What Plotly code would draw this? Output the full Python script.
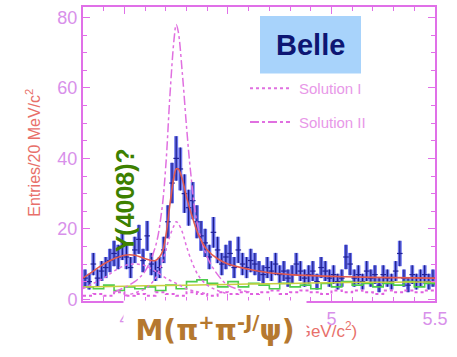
import plotly.graph_objects as go
import numpy as np

# ---- data ----
bin_centers = [round(3.81 + 0.02 * i, 2) for i in range(85)]
counts = [6, 5, 10, 6, 8, 9, 11, 13, 12, 15,
          12, 9, 14, 17, 11, 18, 10, 8, 9, 14,
          22, 33, 40, 37, 30, 26, 28, 22, 18, 16,
          12, 19, 14, 10, 12, 13, 9, 14, 10, 9,
          11, 10, 8, 7, 9, 8, 10, 7, 8, 6,
          7, 10, 8, 6, 7, 8, 5, 9, 8, 6,
          7, 5, 6, 12, 10, 6, 7, 5, 8, 6,
          7, 4, 7, 6, 5, 8, 13, 6, 4, 7,
          5, 6, 7, 5, 6]

fit_x = [3.80, 3.85, 3.90, 3.95, 4.00, 4.05, 4.10, 4.15, 4.18, 4.20, 4.22, 4.24, 4.25, 4.26,
         4.28, 4.30, 4.33, 4.36, 4.40, 4.45, 4.50, 4.60, 4.70, 4.80, 5.00, 5.20, 5.50]
fit_y = [6, 8, 10, 11.5, 12.5, 12.5, 11.5, 11, 13, 18, 27, 35, 37, 37,
         34, 29, 23, 18, 14, 11.5, 10, 8.5, 7.5, 7, 6.5, 6.2, 6]

sol2_x = [3.95, 4.05, 4.10, 4.15, 4.18, 4.20, 4.22, 4.24, 4.25, 4.26, 4.28, 4.30, 4.32, 4.35, 4.40, 4.45, 4.50, 4.60]
sol2_y = [2, 5, 8, 15, 25, 38, 58, 74, 78, 76, 64, 49, 36, 22, 12, 7, 4, 2]

sol1_x = [4.00, 4.10, 4.15, 4.18, 4.20, 4.22, 4.24, 4.25, 4.26, 4.28, 4.30, 4.33, 4.36, 4.40, 4.45, 4.50]
sol1_y = [1, 3, 6, 10, 14, 18, 21, 22, 21.5, 19, 15, 10, 6.5, 4, 2.5, 1.5]

y4008_x = [3.80, 3.85, 3.90, 3.95, 4.00, 4.05, 4.10, 4.15, 4.20, 4.25, 4.30, 4.40]
y4008_y = [3, 4.5, 6, 8, 9.5, 10, 9.5, 8, 6, 4.5, 3, 1.5]

side_x = [round(3.80 + 0.05 * i, 2) for i in range(35)]
side_y = [3.5, 3, 4, 2.5, 3.5, 3, 3.5, 2.5, 4, 3, 5, 5.5, 4.5, 3.5, 5, 3.5, 4.5, 4,
          3, 4.5, 3.5, 4, 3, 4.5, 3.5, 5, 4, 4.5, 3.5, 4.5, 4, 5, 3.5, 4.5, 4]

bkg_x = [3.80, 4.00, 4.20, 4.40, 4.60, 4.80, 5.00, 5.20, 5.50]
bkg_y = [3.5, 3.7, 3.9, 4.1, 4.3, 4.5, 4.7, 4.8, 4.9]

low_x = [round(3.80 + 0.05 * i, 2) for i in range(35)]
low_y = [1, 1.5, 1, 2, 1, 1.5, 1, 2, 1.5, 1, 2, 1.5, 1, 2, 1.5, 2, 1.5, 2,
         2.5, 1.5, 2, 2.5, 2, 1.5, 2.5, 2, 2.5, 2, 1.5, 2.5, 2, 2.5, 2, 2.5, 2]

y_ticks = [0, 20, 40, 60, 80]
x_ticks = [4, 4.5, 5, 5.5]
x_tick_text = ["4", "4.5", "5", "5.5"]

# ---- figure ----
errs = [np.sqrt(c) for c in counts]
fig = go.Figure()

fig.add_trace(go.Bar(x=bin_centers, y=[2 * e for e in errs],
                     base=[c - e for c, e in zip(counts, errs)],
                     width=0.019, marker=dict(color="rgba(80,90,235,0.85)", line=dict(width=0)),
                     hoverinfo="skip"))
fig.add_trace(go.Scatter(x=bin_centers, y=counts, mode="markers",
                         marker=dict(symbol="line-ew", size=4, color="#22229a", line=dict(width=1.2, color="#22229a")),
                         error_y=dict(type="data", array=errs, color="#1e1e88", thickness=1.2, width=0)))

fig.add_trace(go.Scatter(x=low_x, y=low_y, mode="lines", line=dict(color="#e060e0", width=2, dash="dot", shape="hv")))
fig.add_trace(go.Scatter(x=side_x, y=side_y, mode="lines", line=dict(color="#4ccc4c", width=1.6, shape="hv")))
fig.add_trace(go.Scatter(x=bkg_x, y=bkg_y, mode="lines", line=dict(color="#c8d040", width=1.5, shape="spline")))
fig.add_trace(go.Scatter(x=y4008_x, y=y4008_y, mode="lines", line=dict(color="#e070e0", width=1.5, dash="dot", shape="spline")))
fig.add_trace(go.Scatter(x=sol2_x, y=sol2_y, mode="lines", line=dict(color="#e070e0", width=1.5, dash="dashdot", shape="spline")))
fig.add_trace(go.Scatter(x=sol1_x, y=sol1_y, mode="lines", line=dict(color="#e070e0", width=1.5, dash="dot", shape="spline")))
fig.add_trace(go.Scatter(x=fit_x, y=fit_y, mode="lines", line=dict(color="#e05a50", width=1.6, shape="spline")))

axis_col = "#e070e8"
tick_font = dict(family="Liberation Sans, Arial, sans-serif", size=18, color="#d890ea")

fig.update_layout(
    width=457, height=357,
    margin=dict(l=83, r=22, t=5, b=56),
    paper_bgcolor="white", plot_bgcolor="white",
    showlegend=False, barmode="overlay",
    xaxis=dict(range=[3.8, 5.5], tickvals=x_ticks, ticktext=x_tick_text, ticks="inside", ticklen=7,
               tickcolor=axis_col, showline=True, linecolor=axis_col, linewidth=2, mirror="ticks",
               showgrid=False, zeroline=False, tickfont=tick_font,
               minor=dict(dtick=0.1, ticks="inside", ticklen=4, tickcolor=axis_col)),
    yaxis=dict(range=[-0.5, 83], tickvals=y_ticks, ticks="inside", ticklen=7,
               tickcolor=axis_col, showline=True, linecolor=axis_col, linewidth=2, mirror="ticks",
               showgrid=False, zeroline=False, tickfont=tick_font,
               minor=dict(dtick=5, ticks="inside", ticklen=4, tickcolor=axis_col)),
)

def px_x(p):
    return (p - 83) / 352

def px_y(p):
    return (301.5 - p) / 296.5

# Belle box
fig.add_shape(type="rect", xref="paper", yref="paper", x0=px_x(260), x1=px_x(361), y0=px_y(72), y1=px_y(14),
              fillcolor="#a8d3fb", line=dict(width=0), layer="above")
fig.add_annotation(xref="paper", yref="paper", x=px_x(310.5), y=px_y(43), xanchor="center", yanchor="middle",
                   text="<b>Belle</b>", showarrow=False,
                   font=dict(family="Liberation Sans, Arial, sans-serif", size=29, color="#0d1673"))

# legend
leg_font = dict(family="Liberation Sans, Arial, sans-serif", size=15, color="#e898e8")
for ypx, label, dash in [(87, "Solution I", "dot"), (121, "Solution II", "dashdot")]:
    fig.add_shape(type="line", xref="paper", yref="paper", x0=px_x(250), x1=px_x(290),
                  y0=px_y(ypx), y1=px_y(ypx), line=dict(color="#e070e0", width=2, dash=dash))
    fig.add_annotation(xref="paper", yref="paper", x=px_x(297), y=px_y(ypx), xanchor="left", yanchor="middle",
                       text=label, showarrow=False, font=leg_font)

# y title
fig.add_annotation(xref="paper", yref="paper", x=px_x(33), y=px_y(152), xanchor="center", yanchor="middle",
                   textangle=-90, text="Entries/20 MeV/c<sup>2</sup>", showarrow=False,
                   font=dict(family="Liberation Sans, Arial, sans-serif", size=16, color="#e8706a"))

# Y(4008)?
fig.add_annotation(xref="paper", yref="paper", x=px_x(125), y=px_y(200), xanchor="center", yanchor="middle",
                   textangle=-90, text="<b>Y(4008)?</b>", showarrow=False,
                   font=dict(family="Liberation Sans, Arial, sans-serif", size=25, color="#3d8000"))

# x title (partially hidden)
fig.add_annotation(xref="paper", yref="paper", x=px_x(359), y=px_y(331), xanchor="right", yanchor="middle",
                   text="(GeV/c<sup>2</sup>)", showarrow=False,
                   font=dict(family="Liberation Sans, Arial, sans-serif", size=17, color="#e8706a"))
# white box covering with M(pi+ pi- J/psi)
fig.add_annotation(xref="paper", yref="paper", x=px_x(215), y=px_y(330), xanchor="center", yanchor="middle",
                   width=180, height=54,
                   text="<b>M(π<sup>+</sup>π<sup>-J/</sup>ψ)</b>", showarrow=False, bgcolor="white",
                   font=dict(family="DejaVu Sans, sans-serif", size=28, color="#b5782f"))

fig.write_html("out.html", config={"displayModeBar": False},
               post_script="document.body.style.margin='0';document.body.style.overflow='hidden';")
